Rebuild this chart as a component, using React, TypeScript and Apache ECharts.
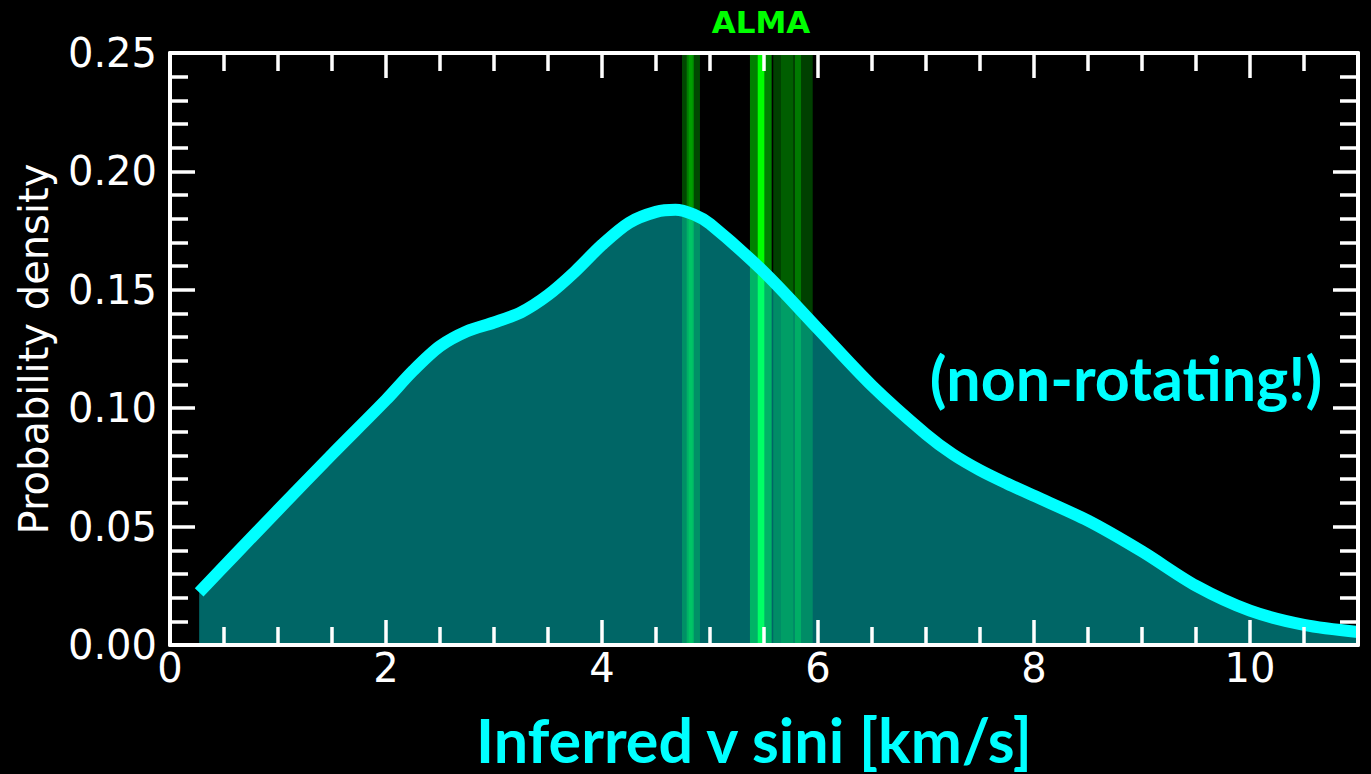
import React, { useEffect, useRef } from "react";
import * as echarts from "echarts";

// Kernel density of inferred v sin i (km/s)
const vsini = [0.27, 0.6, 1.0, 1.5, 2.0, 2.25, 2.5, 2.75, 3.0, 3.25, 3.5, 3.75, 4.0, 4.25, 4.5, 4.68, 4.85, 5.0, 5.5, 6.0, 6.5, 7.0, 7.25, 7.5, 7.75, 8.0, 8.5, 9.0, 9.5, 10.0, 10.5, 11.0];
const density = [0.0222, 0.038, 0.057, 0.0805, 0.1035, 0.1158, 0.1262, 0.1325, 0.1362, 0.1405, 0.1478, 0.1577, 0.169, 0.1783, 0.1829, 0.1838, 0.1818, 0.1778, 0.1575, 0.1335, 0.1095, 0.089, 0.0805, 0.0738, 0.0682, 0.063, 0.0525, 0.0395, 0.025, 0.0145, 0.0085, 0.0055];

// ALMA measurement bands: lower edge, upper edge, shade strength
const almaLo = [4.741, 4.784, 4.803, 5.37, 5.442, 5.586, 5.657, 5.787];
const almaHi = [4.907, 4.852, 4.84, 5.571, 5.503, 5.951, 5.769, 5.843];
const almaShade = [0.28, 0.3, 0.25, 0.5, 1.0, 0.25, 0.16, 0.3];

const yTicks = [0, 0.05, 0.1, 0.15, 0.2, 0.25];

const WHITE = "#ffffff";
const CYAN = "#00ffff";

export default function App() {
  const ref = useRef<HTMLDivElement>(null);

  useEffect(() => {
    if (!ref.current) return;
    const chart = echarts.init(ref.current, null, { renderer: "svg" });

    const curve = vsini.map((x, i) => [x, density[i]]);
    const bands = almaLo.map((lo, i) => [lo, almaHi[i], almaShade[i]]);

    const axisCommon = {
      axisLine: { show: true, onZero: false, lineStyle: { color: WHITE, width: 4 } },
      axisTick: { show: true, inside: true, length: 25, lineStyle: { color: WHITE, width: 3.5 } },
      minorTick: { show: true, length: 18, lineStyle: { color: WHITE, width: 3.5 } },
      splitLine: { show: false },
      z: 10,
    };

    const xBase = { type: "value", min: 0, max: 11, interval: 2, ...axisCommon };
    const yBase = { type: "value", min: 0, max: 0.25, interval: 0.05, ...axisCommon };

    chart.setOption({
      animation: false,
      backgroundColor: "#000000",
      grid: { left: 170, right: 13, top: 53, bottom: 129, containLabel: false, outerBoundsMode: "none" },
      xAxis: [
        {
          ...xBase,
          position: "bottom",
          minorTick: { ...axisCommon.minorTick, splitNumber: 4 },
          axisLabel: {
            show: true,
            color: WHITE,
            fontFamily: "DejaVu Sans",
            fontSize: 40,
            margin: 3,
            showMaxLabel: false,
            formatter: (v: number) => String(v),
          },
        },
        {
          ...xBase,
          position: "top",
          minorTick: { ...axisCommon.minorTick, splitNumber: 4 },
          axisLabel: { show: false },
        },
      ],
      yAxis: [
        {
          ...yBase,
          position: "left",
          minorTick: { ...axisCommon.minorTick, splitNumber: 5 },
          axisLabel: {
            show: true,
            color: WHITE,
            fontFamily: "DejaVu Sans",
            fontSize: 40,
            margin: 13,
            customValues: yTicks,
            formatter: (v: number) => v.toFixed(2),
          },
          name: "Probability density",
          nameLocation: "middle",
          nameRotate: 90,
          nameGap: 116,
          nameTextStyle: { color: WHITE, fontFamily: "DejaVu Sans", fontSize: 40 },
        },
        {
          ...yBase,
          position: "right",
          minorTick: { ...axisCommon.minorTick, splitNumber: 5 },
          axisLabel: { show: false },
        },
      ],
      graphic: [
        {
          type: "text",
          x: 761,
          y: 22,
          style: {
            text: "ALMA",
            fill: "#00ff00",
            font: "bold 31px 'DejaVu Sans'",
            textAlign: "center",
            textVerticalAlign: "middle",
          },
        },
        {
          type: "text",
          x: 1126,
          y: 377,
          style: {
            text: "(non-rotating!)",
            fill: CYAN,
            font: "bold 61px Lato",
            textAlign: "center",
            textVerticalAlign: "middle",
          },
        },
        {
          type: "text",
          x: 754,
          y: 739,
          style: {
            text: "Inferred v sini [km/s]",
            fill: CYAN,
            font: "bold 61px Lato",
            textAlign: "center",
            textVerticalAlign: "middle",
          },
        },
      ],
      series: [
        {
          type: "custom",
          xAxisIndex: 0,
          yAxisIndex: 0,
          z: 1,
          data: bands,
          renderItem: (_params: any, api: any) => {
            const lo = api.value(0);
            const hi = api.value(1);
            const a = api.value(2);
            const p0 = api.coord([lo, 0.25]);
            const p1 = api.coord([hi, 0]);
            return {
              type: "rect",
              shape: { x: p0[0], y: p0[1], width: p1[0] - p0[0], height: p1[1] - p0[1] },
              style: { fill: `rgba(0,255,0,${a})` },
            };
          },
        },
        {
          type: "line",
          xAxisIndex: 0,
          yAxisIndex: 0,
          z: 2,
          data: curve,
          smooth: 0.3,
          showSymbol: false,
          symbol: "none",
          lineStyle: { color: CYAN, width: 12, cap: "butt" },
          areaStyle: { color: "rgba(0,255,255,0.4)", opacity: 1, origin: "start" },
        },
      ],
    });

    return () => chart.dispose();
  }, []);

  return (
    <div
      ref={ref}
      style={{ position: "fixed", left: 0, top: 0, width: 1371, height: 774, background: "#000" }}
    />
  );
}
